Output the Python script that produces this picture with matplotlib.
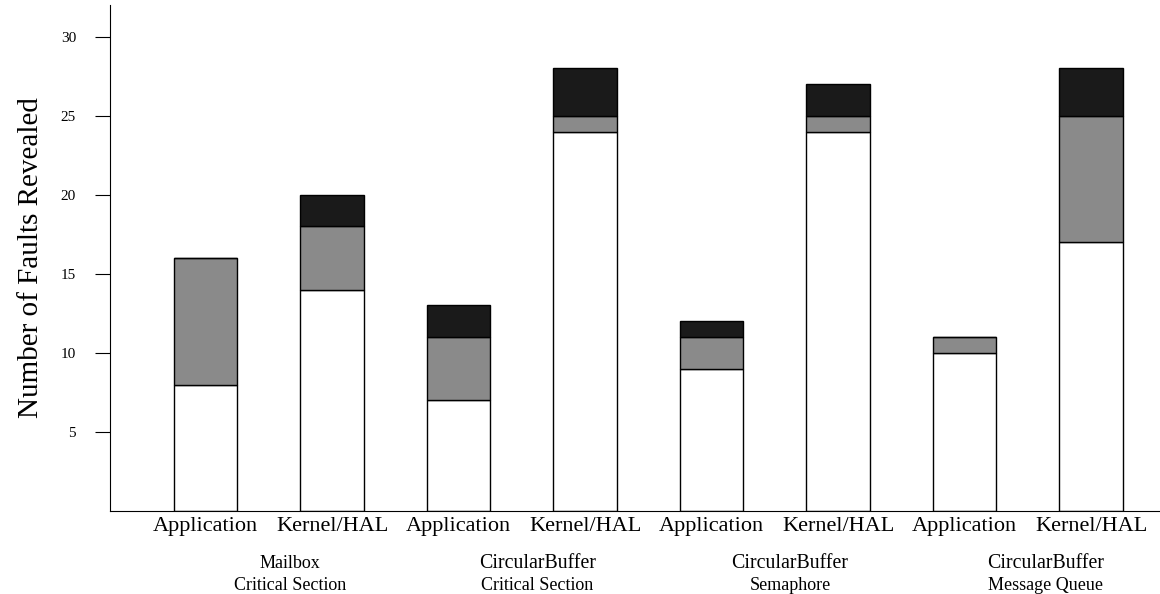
import matplotlib
matplotlib.use("Agg")
import matplotlib.pyplot as plt
import numpy as np

plt.rcParams['font.family'] = ['Liberation Serif', 'DejaVu Serif']

bar_labels = ["Application", "Kernel/HAL"] * 4
group_line1 = ["Mailbox", "CircularBuffer", "CircularBuffer", "CircularBuffer"]
group_line2 = ["Critical Section", "Critical Section", "Semaphore", "Message Queue"]
white_vals = [8, 14, 7, 24, 9, 24, 10, 17]
gray_vals = [8, 4, 4, 1, 2, 1, 1, 8]
black_vals = [0, 2, 2, 3, 1, 2, 0, 3]
yticks = [5, 10, 15, 20, 25, 30]

fig = plt.figure(figsize=(11.6, 5.94), dpi=100)
ax = fig.add_axes([110/1160, 1 - 511/594, (1160-110)/1160, (511-5)/594])

x = np.arange(len(white_vals))
w = np.array(white_vals)
g = np.array(gray_vals)
b = np.array(black_vals)
width = 0.5
ax.bar(x, w, width, color="white", edgecolor="black", linewidth=1.0)
ax.bar(x, g, width, bottom=w, color="#8a8a8a", edgecolor="black", linewidth=1.0)
ax.bar(x, b, width, bottom=w + g, color="#1a1a1a", edgecolor="black", linewidth=1.0)

ax.set_xlim(-0.755, 7.545)
ax.set_ylim(0, 32)
ax.set_yticks(yticks)
ax.set_yticklabels([str(t) for t in yticks], fontsize=11)
ax.tick_params(axis='y', length=11, width=0.8, pad=13.5)
ax.set_xticks(x)
ax.set_xticklabels(bar_labels, fontsize=16)
ax.tick_params(axis='x', length=0, pad=4)
ax.spines['top'].set_visible(False)
ax.spines['right'].set_visible(False)
ax.spines['left'].set_linewidth(0.8)
ax.spines['bottom'].set_linewidth(0.8)
ax.set_ylabel("Number of Faults Revealed", fontsize=21, labelpad=12)

centers = [0.665, 2.625, 4.62, 6.64]
for i in range(4):
    fs1 = 13 if group_line1[i] == "Mailbox" else 14.3
    ax.text(centers[i], -3.3, group_line1[i], ha="center", va="center", fontsize=fs1,
            transform=ax.transData, clip_on=False)
    ax.text(centers[i], -4.72, group_line2[i], ha="center", va="center", fontsize=13,
            transform=ax.transData, clip_on=False)

fig.savefig("out.png", dpi=100)
